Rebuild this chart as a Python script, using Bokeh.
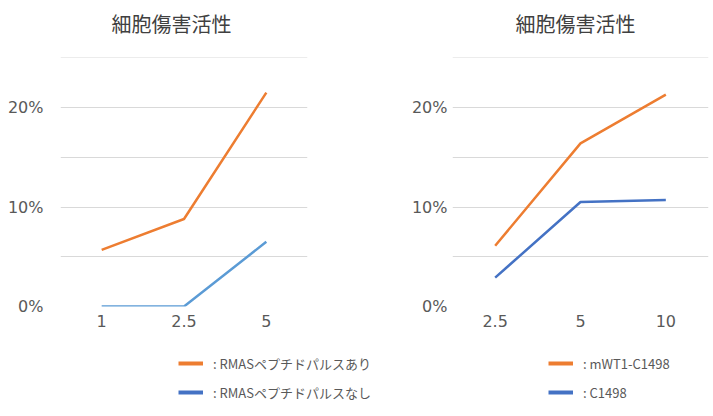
from bokeh.plotting import figure
from bokeh.models import FactorRange, Range1d, FixedTicker, Legend, LegendItem
from bokeh.core.properties import value
from bokeh.layouts import column, row
from bokeh.embed import file_html
from bokeh.resources import INLINE

# ---- data ----
titles = ["細胞傷害活性", "細胞傷害活性"]
left_cats = ["1", "2.5", "5"]
left_pulse_yes = [5.7, 8.8, 21.5]
left_pulse_no = [0.0, 0.0, 6.5]
right_cats = ["2.5", "5", "10"]
right_mwt1 = [6.1, 16.4, 21.3]
right_c1498 = [2.9, 10.5, 10.7]
y_grid_ticks = [0, 5, 10, 15, 20, 25]
y_label_ticks = [0, 10, 20]
y_labels = {0: "0%", 10: "10%", 20: "20%"}
legend_left = [": RMASペプチドパルスあり", ": RMASペプチドパルスなし"]
legend_right = [": mWT1-C1498", ": C1498"]

ORANGE = "#ED7D31"
BLUE_LIGHT = "#5B9BD5"
BLUE = "#4472C4"
TXT = "#595959"
GRID = "#D9D9D9"
NUM_FONT = "DejaVu Sans"
JP_FONT = "Noto Sans CJK JP"

# ---- title strip (pixel-scaled canvas) ----
ttl = figure(width=713, height=40, x_range=Range1d(0, 713), y_range=Range1d(40, 0),
             output_backend="svg", toolbar_location=None, min_border=0,
             outline_line_color=None)
ttl.axis.visible = False
ttl.grid.visible = False
ttl.text(x=[171, 575], y=[23, 23], text=titles, text_align="center",
         text_baseline="middle", text_font=value(JP_FONT),
         text_font_size="20px", text_color="#404040")


def make_fig(cats, width, bl, br, label_standoff):
    p = figure(width=width, height=300, x_range=FactorRange(*cats),
               y_range=Range1d(0, 25.03), output_backend="svg",
               toolbar_location=None, min_border_left=bl, min_border_right=br,
               min_border_top=17, min_border_bottom=34)
    p.outline_line_color = None
    p.background_fill_color = "white"
    p.xgrid.grid_line_color = None
    p.ygrid.ticker = FixedTicker(ticks=y_grid_ticks)
    p.ygrid.grid_line_color = GRID
    p.ygrid.grid_line_width = 1
    p.yaxis.ticker = FixedTicker(ticks=y_label_ticks)
    p.yaxis.major_label_overrides = y_labels
    for ax in (p.xaxis[0], p.yaxis[0]):
        ax.axis_line_color = None
        ax.major_tick_line_color = None
        ax.minor_tick_line_color = None
        ax.major_tick_in = 0
        ax.major_tick_out = 0
        ax.major_label_text_font = NUM_FONT
        ax.major_label_text_font_size = "16px"
        ax.major_label_text_color = TXT
    p.yaxis.major_label_standoff = label_standoff
    p.xaxis.major_label_standoff = 8
    return p


p1 = make_fig(left_cats, 356, 60, 49, 17)
p1.line(left_cats, left_pulse_yes, line_color=ORANGE, line_width=2.5)
p1.line(left_cats, left_pulse_no, line_color=BLUE_LIGHT, line_width=2.5)

p2 = make_fig(right_cats, 357, 96, 5, 5)
p2.line(right_cats, right_mwt1, line_color=ORANGE, line_width=2.5)
p2.line(right_cats, right_c1498, line_color=BLUE, line_width=2.5)

# ---- legend panel (swatch renderers sit outside the visible range) ----
p3 = figure(width=713, height=76, x_range=Range1d(0, 1), y_range=Range1d(0, 1),
            output_backend="svg", toolbar_location=None,
            min_border=0, outline_line_color=None)
p3.axis.visible = False
p3.grid.visible = False
r_or = p3.line([-5, -4], [-5, -4], line_color=ORANGE, line_width=4)
r_bl = p3.line([-5, -4], [-5, -4], line_color=BLUE, line_width=4)


def add_leg(labels, x):
    leg = Legend(items=[LegendItem(label=labels[0], renderers=[r_or]),
                        LegendItem(label=labels[1], renderers=[r_bl])],
                 location=(x, 14), padding=0, margin=0, spacing=9,
                 glyph_width=25, glyph_height=20, label_height=20,
                 label_standoff=10, border_line_color=None,
                 background_fill_alpha=0,
                 label_text_font=JP_FONT, label_text_font_size="13px",
                 label_text_color=TXT)
    p3.add_layout(leg, "center")


add_leg(legend_left, 178)
add_leg(legend_right, 548)

layout = column(ttl, row(p1, p2), p3)
open("out.html", "w").write(file_html(layout, INLINE))
